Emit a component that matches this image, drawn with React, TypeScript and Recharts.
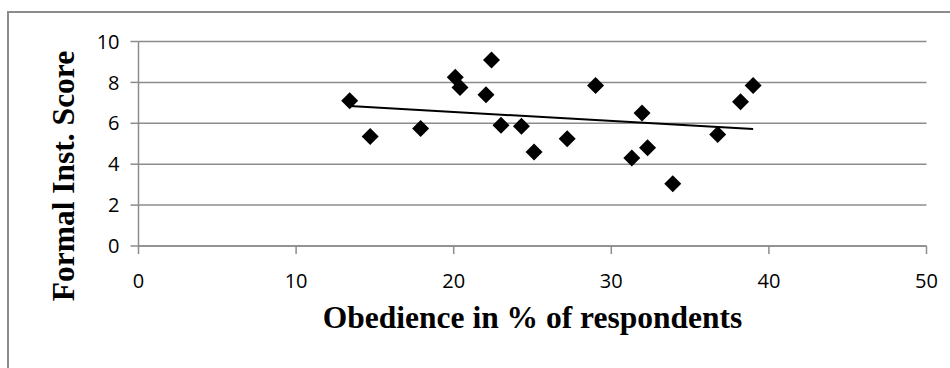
import { ScatterChart, Scatter, XAxis, YAxis, CartesianGrid } from 'recharts'

// Obedience (% of respondents) vs formal institutions score, one point per case
const obedience = [13.4, 14.7, 17.9, 20.1, 20.4, 22.05, 22.4, 23.0, 24.3, 25.1, 27.2, 29.0, 31.3, 31.95, 32.3, 33.9, 36.75, 38.2, 39.0]
const score = [7.1, 5.35, 5.75, 8.25, 7.75, 7.4, 9.1, 5.9, 5.85, 4.6, 5.25, 7.85, 4.3, 6.5, 4.8, 3.05, 5.45, 7.05, 7.85]

// linear trendline, end points
const trendX = [13.4, 39.0]
const trendY = [6.84, 5.72]

const xTicks = [0, 10, 20, 30, 40, 50]
const yTicks = [0, 2, 4, 6, 8, 10]

const points = obedience.map((x, i) => ({ x, y: score[i] }))
const trend = trendX.map((x, i) => ({ x, y: trendY[i] }))

const GRAY = '#8c8c8c'
const TICK_FONT = { fontFamily: '"Open Sans", sans-serif', fontSize: 20, fill: '#000' }
const TITLE_FONT = '"Liberation Serif", "Times New Roman", serif'

function Diamond(props: any) {
  const { cx, cy } = props
  if (cx == null || cy == null) return null
  const r = 8.5
  return (
    <polygon
      points={`${cx},${cy - r} ${cx + r},${cy} ${cx},${cy + r} ${cx - r},${cy}`}
      fill="#000"
    />
  )
}

function YTitle() {
  return (
    <text
      transform="translate(74,176) rotate(-90)"
      textAnchor="middle"
      fontFamily={TITLE_FONT}
      fontWeight="bold"
      fontSize={31.5}
      fill="#000"
    >
      Formal Inst. Score
    </text>
  )
}

export default function App() {
  return (
    <div style={{ position: 'relative', width: 950, height: 368, overflow: 'hidden', background: '#fff' }}>
      <style>{'body{margin:0;overflow:hidden}'}</style>
      <div
        style={{
          position: 'absolute',
          left: 7,
          top: 11,
          width: 980,
          height: 420,
          border: `2px solid ${GRAY}`,
        }}
      />
      <div style={{ position: 'absolute', left: 0, top: 0 }}>
        <ScatterChart
          width={950}
          height={368}
          margin={{ top: 41.5, right: 23.5, bottom: 22, left: 78.5 }}
        >
          <CartesianGrid vertical={false} stroke={GRAY} strokeWidth={1.5} />
          <XAxis
            type="number"
            dataKey="x"
            domain={[0, 50]}
            ticks={xTicks}
            interval={0}
            height={100}
            stroke={GRAY}
            strokeWidth={1.5}
            tickSize={8}
            tickMargin={20}
            tick={TICK_FONT}
            label={{
              value: 'Obedience in % of respondents',
              position: 'insideBottom',
              offset: 18,
              style: { fontFamily: TITLE_FONT, fontWeight: 'bold', fontSize: 31.5, fill: '#000' },
            }}
          />
          <YAxis
            type="number"
            dataKey="y"
            domain={[0, 10]}
            ticks={yTicks}
            interval={0}
            width={60}
            stroke={GRAY}
            strokeWidth={1.5}
            tickSize={8}
            tickMargin={11}
            tick={TICK_FONT}
            label={{ content: () => <YTitle /> }}
          />
          <Scatter data={points} shape={<Diamond />} isAnimationActive={false} />
          <Scatter
            data={trend}
            line={{ stroke: '#000', strokeWidth: 2 }}
            shape={() => null}
            isAnimationActive={false}
          />
        </ScatterChart>
      </div>
    </div>
  )
}
